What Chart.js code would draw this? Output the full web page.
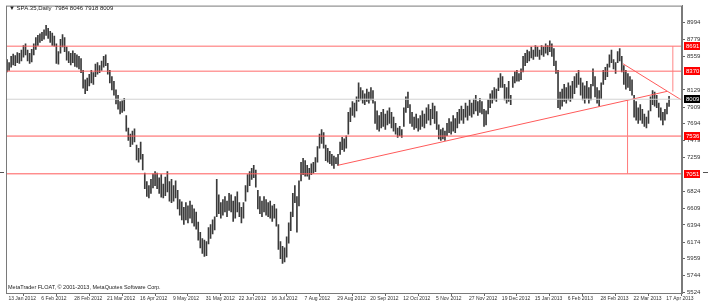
<!DOCTYPE html>
<html>
<head>
<meta charset="utf-8">
<script src="https://cdn.jsdelivr.net/npm/chart.js@4.4.0/dist/chart.umd.min.js"></script>
<style>
  html, body { margin: 0; padding: 0; background: #fff; }
  canvas { display: block; }
</style>
</head>
<body>
<canvas id="chart" width="712" height="307"></canvas>
<script>
// date labels, one every 16 bars
const dateLabels = ['13 Jan 2012', '6 Feb 2012', '28 Feb 2012', '21 Mar 2012', '16 Apr 2012', '9 May 2012',
  '31 May 2012', '22 Jun 2012', '16 Jul 2012', '7 Aug 2012', '29 Aug 2012', '20 Sep 2012', '12 Oct 2012',
  '5 Nov 2012', '27 Nov 2012', '19 Dec 2012', '15 Jan 2013', '6 Feb 2013', '28 Feb 2013', '22 Mar 2013', '17 Apr 2013'];

const priceTicks = [5524, 5744, 5959, 6174, 6394, 6609, 6824, 7259, 7479, 7694, 7909, 8129, 8559, 8779, 8994];

const highs = [
  8520, 8480, 8560, 8590, 8570, 8610, 8600, 8640, 8700, 8720,
  8640, 8600, 8650, 8720, 8800, 8830, 8850, 8870, 8900, 8960,
  8920, 8880, 8860, 8820, 8720, 8620, 8780, 8840, 8800, 8680,
  8620, 8600, 8630, 8600, 8580, 8560, 8530, 8380, 8260, 8280,
  8330, 8380, 8350, 8460, 8480, 8440, 8500, 8560, 8580, 8470,
  8380, 8300, 8240, 8130, 8060, 7980, 7990, 8020, 7800, 7640,
  7560, 7600, 7630, 7420, 7380, 7460, 7300, 7060, 6950, 6900,
  6980, 7050, 7080, 7060, 7000, 7040, 6920, 7010, 7080, 6950,
  6980, 6900, 6960, 6840, 6720, 6690, 6620, 6680, 6640, 6700,
  6650, 6600, 6560, 6430, 6300, 6220, 6200, 6180, 6360, 6400,
  6460, 6500, 6980, 6780, 6680, 6720, 6760, 6700, 6800, 6780,
  6700, 6760, 6820, 6680, 6620, 6680, 6900, 7040, 7080, 7120,
  7160, 7100, 6840, 6760, 6700, 6760, 6720, 6680, 6700, 6640,
  6660, 6600, 6400, 6180, 6120, 6100, 6240, 6420, 6560, 6800,
  6900, 6760, 6960, 7200, 7250, 7220, 7160, 7120, 7180, 7200,
  7260, 7400, 7560, 7620, 7580, 7420, 7380, 7340, 7300, 7280,
  7260, 7300, 7460, 7520, 7500, 7540, 7840, 7900, 7980, 7960,
  8040, 8220, 8160, 8120, 8080, 8140, 8100, 8160, 8120, 7980,
  7860, 7800, 7840, 7880, 7820, 7860, 7900, 7840, 7780, 7700,
  7640, 7660, 7620, 7900, 8040, 8100, 7940, 7840, 7780, 7820,
  7760, 7800, 7860, 7820, 7900, 7940, 7880, 7960, 7920, 7850,
  7680, 7620, 7640, 7600, 7700, 7760, 7720, 7800, 7760, 7840,
  7880, 7920, 7880, 7960, 7920, 8000, 7960, 8010, 8060, 7980,
  8020, 7980, 7880, 7860, 8000, 8080, 8120, 8160, 8140, 8280,
  8340, 8300, 8200, 8160, 8240, 8060, 8300, 8360, 8380, 8340,
  8400, 8560, 8600, 8640, 8620, 8680, 8640, 8700, 8680, 8640,
  8700, 8680, 8720, 8700, 8760, 8720, 8660, 8500, 8380, 8100,
  8140, 8200, 8160, 8220, 8180, 8240, 8300, 8340, 8380, 8280,
  8220, 8180, 8240, 8160, 8200, 8400, 8300, 8160, 8120, 8220,
  8380, 8420, 8460, 8580, 8640, 8520, 8480, 8620, 8660, 8560,
  8440, 8380, 8340, 8300, 8260, 8060, 7980, 7900, 7940, 7880,
  7820, 7780, 7860, 8040, 8120, 8100, 8060, 7960, 7900, 7840,
  7880, 7960, 8046
];

const lows = [
  8360, 8380, 8420, 8450, 8440, 8480, 8470, 8500, 8550, 8580,
  8500, 8470, 8490, 8580, 8650, 8700, 8740, 8760, 8780, 8830,
  8790, 8740, 8700, 8690, 8470, 8460, 8600, 8680, 8620, 8510,
  8480, 8450, 8480, 8430, 8420, 8400, 8350, 8150, 8080, 8120,
  8180, 8220, 8200, 8300, 8330, 8350, 8380, 8420, 8440, 8330,
  8220, 8130, 8060, 7950, 7880, 7820, 7840, 7860, 7600, 7480,
  7400, 7430, 7460, 7230, 7200, 7240, 7100, 6860, 6760, 6740,
  6800, 6870, 6900, 6860, 6800, 6750, 6740, 6770, 6820, 6700,
  6680, 6700, 6740, 6600, 6520, 6460, 6400, 6460, 6420, 6480,
  6420, 6380, 6340, 6200, 6100, 6030, 5990, 6000, 6150, 6220,
  6280, 6330, 6500, 6540, 6480, 6520, 6560, 6500, 6580, 6560,
  6440, 6480, 6560, 6500, 6420, 6480, 6700, 6820, 6900, 6980,
  7000, 6880, 6600, 6540, 6500, 6560, 6520, 6500, 6480, 6440,
  6480, 6380, 6080, 5960, 5900, 5920, 5980, 6160, 6320, 6500,
  6680, 6300, 6640, 6960, 7040, 7020, 7020, 6980, 7040, 7060,
  7080, 7200, 7380, 7440, 7380, 7220, 7200, 7180, 7160, 7120,
  7180, 7160, 7300, 7360, 7340, 7380, 7560, 7720, 7800, 7780,
  7860, 7980, 8000, 7960, 7940, 7980, 7960, 8000, 7960, 7700,
  7620, 7600, 7640, 7660, 7620, 7680, 7700, 7640, 7600, 7560,
  7520, 7540, 7520, 7660, 7840, 7900, 7700, 7660, 7620, 7640,
  7600, 7620, 7660, 7640, 7700, 7740, 7680, 7760, 7700, 7620,
  7500, 7480, 7500, 7480, 7540, 7580, 7560, 7600, 7580, 7640,
  7700, 7740, 7700, 7780, 7740, 7800, 7780, 7820, 7860, 7800,
  7840, 7820, 7660, 7680, 7820, 7900, 7960, 8000, 7980, 8120,
  8160, 8160, 8000, 7960, 7980, 7940, 8160, 8220, 8240, 8240,
  8260, 8360, 8440, 8480, 8500, 8540, 8520, 8560, 8560, 8520,
  8580, 8560, 8600, 8580, 8620, 8560, 8440, 8340, 7900, 7880,
  7920, 7980, 7960, 8000, 7980, 8020, 8080, 8160, 8200, 8060,
  8000, 7960, 8020, 7960, 8000, 8180, 8040, 7960, 7920, 8020,
  8200, 8260, 8300, 8420, 8480, 8400, 8340, 8480, 8500, 8360,
  8200, 8140, 8160, 8120, 8060, 7780, 7740, 7700, 7740, 7700,
  7660, 7640, 7700, 7860, 7940, 7920, 7900, 7780, 7740, 7680,
  7740, 7820, 7918
];

// drawn objects (bar index, price)
const levelPrices = [8691, 8370, 7536, 7051];
const lastPrice = 8009;
const trendUp = [[161, 7161], [321, 8110]];
const trendDown = [[299.6, 8465], [328.3, 7995]];
const vLineLow = [[301.8, 7996], [301.8, 7051]];
const vLineHigh = [[323.8, 8691], [323.8, 8110]];

const xMin = -0.5, xMax = 328.3;
const yMin = 5520, yMax = 9212;
const red = '#ff5a5a';
const smallFont = '"Liberation Sans", Arial, sans-serif';

function lineSet(pts, color, width) {
    return {
        type: 'line',
        data: pts.map(p => ({ x: p[0], y: p[1] })),
        borderColor: color,
        borderWidth: width || 1,
        pointRadius: 0,
        fill: false,
        tension: 0,
        order: 1
    };
}

const datasets = [
    {
        type: 'bar',
        data: highs.map((h, i) => ({ x: i, y: [lows[i], h] })),
        backgroundColor: '#3a3a3a',
        barThickness: 1,
        order: 3
    },
    lineSet([[xMin, lastPrice], [xMax, lastPrice]], '#d2d2d2'),
    lineSet(trendUp, red),
    lineSet(trendDown, red),
    lineSet(vLineLow, '#ff8080'),
    lineSet(vLineHigh, 'rgba(255,120,120,0.6)', 1.5)
];
levelPrices.forEach((v, i) => {
    datasets.push(lineSet([[xMin, v], [xMax, v]], i < 2 ? 'rgba(255,90,90,0.6)' : red, i < 2 ? 1.5 : 1));
});

const overlay = {
    id: 'overlay',
    afterDraw(chart) {
        const ctx = chart.ctx;
        const a = chart.chartArea;
        const ys = chart.scales.y;
        ctx.save();
        ctx.strokeStyle = '#7a7a7a';
        ctx.lineWidth = 1;
        ctx.strokeRect(a.left + 0.5, a.top + 0.5, a.right - a.left - 1, a.bottom - a.top);

        ctx.font = '6px ' + smallFont;
        ctx.textBaseline = 'middle';
        const boxes = levelPrices.map(v => [v, '#ff0000']).concat([[lastPrice, '#000000']]);
        boxes.forEach(b => {
            const y = Math.round(ys.getPixelForValue(b[0]));
            ctx.fillStyle = b[1];
            ctx.fillRect(a.right + 2, y - 4, 16, 8);
            ctx.fillStyle = '#ffffff';
            ctx.fillText(String(b[0]), a.right + 4, y + 0.5);
        });

        // small markers beside the 7051 level
        const y7 = Math.round(ys.getPixelForValue(7051)) - 1.5;
        ctx.strokeStyle = '#555';
        ctx.beginPath();
        ctx.moveTo(0, y7); ctx.lineTo(4, y7);
        ctx.moveTo(703, y7); ctx.lineTo(708, y7);
        ctx.stroke();

        ctx.fillStyle = '#222';
        ctx.textBaseline = 'alphabetic';
        ctx.fillText('\u25BC SPA.35,Daily  7984 8046 7918 8009', 9, 10);
        ctx.font = '5.5px ' + smallFont;
        ctx.fillText('MetaTrader FLOAT, \u00A9 2001-2013, MetaQuotes Software Corp.', 8, 289);
        ctx.restore();
    }
};

new Chart(document.getElementById('chart'), {
    type: 'bar',
    data: { datasets: datasets },
    options: {
        responsive: false,
        animation: false,
        devicePixelRatio: 1,
        layout: { padding: { left: 6, top: 5, right: 0, bottom: 0 } },
        plugins: { legend: { display: false }, tooltip: { enabled: false } },
        scales: {
            x: {
                type: 'linear',
                min: xMin,
                max: xMax,
                offset: false,
                grid: { drawOnChartArea: false, drawTicks: true, tickLength: 3, color: '#666' },
                border: { display: true, color: '#7a7a7a' },
                ticks: {
                    autoSkip: false,
                    maxRotation: 0,
                    align: 'start',
                    padding: 0,
                    color: '#333',
                    font: { size: 5, family: smallFont },
                    callback: v => ' ' + dateLabels[Math.round(v / 16)]
                },
                afterBuildTicks: s => { s.ticks = dateLabels.map((_, i) => ({ value: i * 16 })); },
                afterFit: s => { s.height = 14; }
            },
            y: {
                position: 'right',
                min: yMin,
                max: yMax,
                grid: { drawOnChartArea: false, drawTicks: true, tickLength: 3, color: '#666' },
                border: { display: true, color: '#7a7a7a' },
                ticks: {
                    padding: 2,
                    color: '#333',
                    font: { size: 6, family: smallFont },
                    callback: v => String(v)
                },
                afterBuildTicks: s => { s.ticks = priceTicks.map(v => ({ value: v })); },
                afterFit: s => { s.width = 30; }
            }
        }
    },
    plugins: [overlay]
});
</script>
</body>
</html>
